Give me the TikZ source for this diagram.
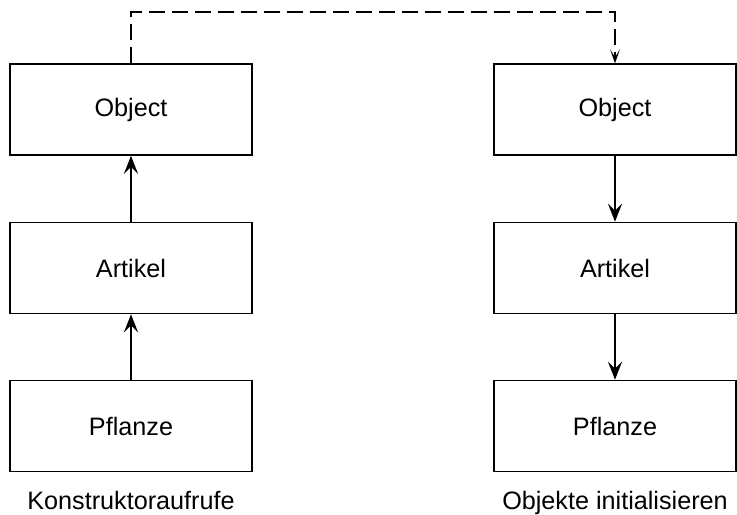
\documentclass[tikz,border=0pt]{standalone}
\usepackage{fontspec}
\setmainfont{Liberation Sans}
\usetikzlibrary{arrows.meta}
\tikzset{
  klasse/.style={draw,line width=0.75pt,minimum width=121pt,minimum height=45.5pt,inner sep=0pt,font=\fontsize{12.6}{15}\selectfont},
  aufruf/.style={line width=1.3pt,-{Stealth[length=9pt,width=7pt,inset=3.5pt]}},
  sprung/.style={line width=0.65pt,dash pattern=on 8pt off 3.5pt,-{Stealth[length=7pt,width=5pt,inset=4pt]}},
  titel/.style={anchor=base,font=\fontsize{12.6}{15}\selectfont}
}
\begin{document}
\begin{tikzpicture}[x=1pt,y=1pt]
\useasboundingbox (0,0) rectangle (368.5,257);
% left column
\node[klasse] (objL) at (65.5,202.25) {Object};
\node[klasse] (artL) at (65.5,123) {Artikel};
\node[klasse] (pflL) at (65.5,44) {Pflanze};
\node[titel] (konst) at (65.5,2.5) {Konstruktoraufrufe};
% right column
\node[klasse] (objR) at (307.5,202.25) {Object};
\node[klasse] (artR) at (307.5,123) {Artikel};
\node[klasse] (pflR) at (307.5,44) {Pflanze};
\node[titel] (init) at (307.5,2.5) {Objekte initialisieren};
% calls
\draw[aufruf] (pflL) -- (artL);
\draw[aufruf] (artL) -- (objL);
\draw[aufruf] (objR) -- (artR);
\draw[aufruf] (artR) -- (pflR);
% jump
\coordinate (oben) at (186.5,251);
\draw[sprung] (objL.north) |- (oben) -| (objR.north);
\end{tikzpicture}
\end{document}
